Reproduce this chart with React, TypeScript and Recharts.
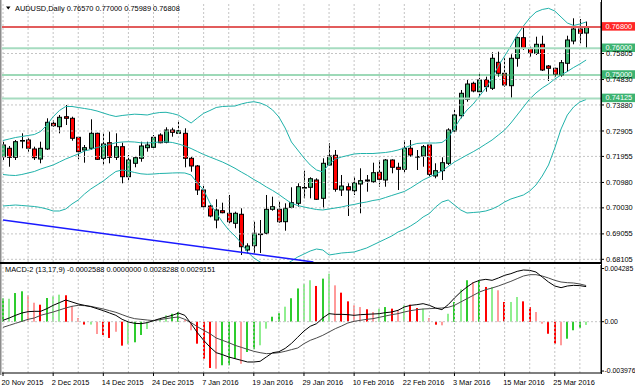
import React from 'react';
import { ComposedChart, Bar, Line, XAxis, YAxis, ReferenceLine } from 'recharts';

const FONT = '"Liberation Sans", Arial, Helvetica, sans-serif';
const FS = 7.4;

// ---------- categories / tick labels ----------
const dateLabels = ['20 Nov 2015', '2 Dec 2015', '14 Dec 2015', '24 Dec 2015', '7 Jan 2016', '19 Jan 2016',
  '29 Jan 2016', '10 Feb 2016', '22 Feb 2016', '3 Mar 2016', '15 Mar 2016', '25 Mar 2016'];
const dateTickIdx = [0, 8, 16, 24, 32, 40, 48, 56, 64, 72, 80, 88];
const gridIdx = [0, 4, 8, 12, 16, 20, 24, 28, 32, 36, 40, 44, 48, 52, 56, 60, 64, 68, 72, 76, 80, 84, 88, 92];

const priceTicks = [0.68105, 0.69055, 0.70030, 0.70980, 0.71955, 0.72905, 0.73880, 0.74830, 0.75805];
const priceGrid = [0.68105, 0.69055, 0.70030, 0.70980, 0.71955, 0.72905, 0.73880, 0.74830, 0.75805, 0.76780];

const levelPrices = [0.76800, 0.76000, 0.75000, 0.74125];
const levelLabels = ['0.76800', '0.76000', '0.75000', '0.74125'];
const levelLineColors = ['#e25c5c', '#a6dcc0', '#3cb371', '#a6dcc0'];
const levelBoxColors = ['#ff2626', '#3cb371', '#3cb371', '#3cb371'];
const levelWidths = [2, 2, 1.2, 2];

const macdTicks = [0.0042859, 0, -0.0039768];
const macdTickLabels = ['0.004285', '0.00', '-0.003976'];

// ---------- candles ----------
const opens = [0.71943, 0.72258, 0.71921, 0.72531, 0.72568, 0.72232, 0.71857, 0.72232, 0.73193, 0.73066,
  0.73440, 0.73380, 0.72669, 0.72194, 0.72258, 0.72819, 0.71884, 0.72467, 0.71921, 0.72318,
  0.71195, 0.71697, 0.71884, 0.72280, 0.72295, 0.72755, 0.72482, 0.72942, 0.72819, 0.72819,
  0.71884, 0.71596, 0.70698, 0.70099, 0.69575, 0.69923, 0.69826, 0.69452, 0.69789, 0.68453,
  0.68614, 0.69033, 0.69078, 0.69976, 0.69976, 0.69512, 0.70050, 0.70200, 0.70772, 0.70799,
  0.71072, 0.70387, 0.71633, 0.71996, 0.70698, 0.70821, 0.70671, 0.70922, 0.71072, 0.71008,
  0.71360, 0.71072, 0.71820, 0.71547, 0.71472, 0.72258, 0.71936, 0.71970, 0.72381, 0.71221,
  0.71420, 0.71697, 0.72905, 0.73477, 0.74091, 0.74690, 0.74375, 0.74824, 0.74503, 0.75475,
  0.75064, 0.74600, 0.75625, 0.76396, 0.75999, 0.75812, 0.76149, 0.75337, 0.75251, 0.75000,
  0.75438, 0.76272, 0.76721, 0.76570];
const highs = [0.72505, 0.72344, 0.72568, 0.72819, 0.72632, 0.72318, 0.72505, 0.73380, 0.73317, 0.73504,
  0.73878, 0.73440, 0.72692, 0.72381, 0.73343, 0.72841, 0.72819, 0.72879, 0.72819, 0.72467,
  0.72007, 0.71970, 0.72505, 0.72505, 0.72755, 0.72819, 0.73043, 0.73028, 0.73290, 0.73006,
  0.71943, 0.71633, 0.70847, 0.70136, 0.70350, 0.70223, 0.70511, 0.69886, 0.70013, 0.68704,
  0.69512, 0.69575, 0.70511, 0.70447, 0.70260, 0.70200, 0.70799, 0.70948, 0.71420, 0.71173,
  0.71135, 0.71884, 0.72445, 0.72194, 0.71259, 0.70948, 0.71195, 0.71510, 0.71259, 0.71719,
  0.71820, 0.71857, 0.71846, 0.71719, 0.72568, 0.72568, 0.72194, 0.72381, 0.72419, 0.71697,
  0.71921, 0.73006, 0.73754, 0.74439, 0.74813, 0.74749, 0.75064, 0.74937, 0.75849, 0.75872,
  0.75625, 0.75775, 0.76433, 0.76807, 0.76059, 0.76433, 0.76470, 0.75374, 0.75273, 0.75561,
  0.76470, 0.77121, 0.77095, 0.77000];
const lows = [0.71820, 0.71569, 0.71820, 0.72258, 0.72131, 0.71820, 0.71697, 0.72194, 0.73066, 0.72819,
  0.73130, 0.72542, 0.71846, 0.71719, 0.72194, 0.71820, 0.71633, 0.71697, 0.71820, 0.70948,
  0.71072, 0.71547, 0.71756, 0.72131, 0.72258, 0.72445, 0.72445, 0.72692, 0.72793, 0.71547,
  0.71382, 0.70511, 0.69949, 0.69676, 0.69265, 0.69826, 0.69452, 0.69265, 0.68266, 0.68329,
  0.68329, 0.68341, 0.69040, 0.69923, 0.69474, 0.69175, 0.70013, 0.70073, 0.70387, 0.70387,
  0.70324, 0.70013, 0.71596, 0.70634, 0.70473, 0.69725, 0.70511, 0.69826, 0.70634, 0.70971,
  0.70821, 0.70821, 0.71322, 0.70698, 0.71345, 0.71943, 0.71446, 0.71569, 0.71195, 0.71135,
  0.71072, 0.71633, 0.72879, 0.73380, 0.74001, 0.74353, 0.74102, 0.74375, 0.74439, 0.74937,
  0.74562, 0.74151, 0.75311, 0.75935, 0.75685, 0.75748, 0.75150, 0.74776, 0.74937, 0.74937,
  0.75124, 0.76149, 0.76186, 0.75989];
const closes = [0.72381, 0.71921, 0.72505, 0.72550, 0.72258, 0.71906, 0.72258, 0.73231, 0.73103, 0.73418,
  0.73380, 0.72632, 0.72131, 0.72280, 0.72819, 0.71846, 0.72419, 0.71921, 0.72318, 0.71195,
  0.71820, 0.71906, 0.72344, 0.72381, 0.72669, 0.72467, 0.72942, 0.72856, 0.72916, 0.71884,
  0.71596, 0.70698, 0.70073, 0.69725, 0.69949, 0.69848, 0.69512, 0.69826, 0.68576, 0.68603,
  0.69078, 0.69052, 0.69976, 0.70073, 0.69512, 0.70013, 0.70223, 0.70821, 0.70791, 0.71120,
  0.70350, 0.71697, 0.71970, 0.70724, 0.70847, 0.70698, 0.70971, 0.71046, 0.71034, 0.71345,
  0.71098, 0.71820, 0.71547, 0.71472, 0.72258, 0.72007, 0.71951, 0.72318, 0.71285, 0.71420,
  0.71719, 0.72942, 0.73504, 0.74316, 0.74663, 0.74402, 0.74813, 0.74562, 0.75625, 0.75064,
  0.74626, 0.75625, 0.76396, 0.75999, 0.75812, 0.76149, 0.75187, 0.75251, 0.75026, 0.75460,
  0.76310, 0.76721, 0.76560, 0.76808];

// ---------- Bollinger bands ----------
const bbUpper = [0.72550, 0.72606, 0.72662, 0.72699, 0.72737, 0.72774, 0.72886, 0.73130, 0.73440, 0.73672,
  0.73822, 0.73822, 0.73784, 0.73747, 0.73709, 0.73653, 0.73578, 0.73504, 0.73448, 0.73485,
  0.73511, 0.73534, 0.73522, 0.73504, 0.73560, 0.73597, 0.73605, 0.73560, 0.73496, 0.73354,
  0.73204, 0.73391, 0.73567, 0.73672, 0.73784, 0.73822, 0.73833, 0.73840, 0.73915, 0.73971,
  0.74001, 0.73953, 0.73859, 0.73691, 0.73429, 0.73017, 0.72493, 0.72194, 0.71895, 0.71633,
  0.71446, 0.71371, 0.71670, 0.71857, 0.71932, 0.71988, 0.72045, 0.72063, 0.72063, 0.72063,
  0.72082, 0.72101, 0.72138, 0.72194, 0.72269, 0.72363, 0.72437, 0.72456, 0.72456, 0.72456,
  0.72475, 0.72643, 0.73017, 0.73391, 0.73691, 0.73915, 0.74215, 0.74514, 0.74888, 0.75337,
  0.75711, 0.76085, 0.76497, 0.76833, 0.77133, 0.77357, 0.77451, 0.77496, 0.77395, 0.77170,
  0.76946, 0.76852, 0.76908, 0.76983];
const bbMiddle = [0.71278, 0.71251, 0.71240, 0.71278, 0.71334, 0.71390, 0.71483, 0.71558, 0.71633, 0.71745,
  0.71857, 0.71951, 0.72045, 0.72157, 0.72213, 0.72288, 0.72344, 0.72400, 0.72467, 0.72493,
  0.72505, 0.72493, 0.72464, 0.72456, 0.72475, 0.72493, 0.72501, 0.72475, 0.72419, 0.72344,
  0.72250, 0.72138, 0.72026, 0.71932, 0.71839, 0.71745, 0.71633, 0.71510, 0.71371, 0.71240,
  0.71091, 0.70960, 0.70810, 0.70679, 0.70529, 0.70361, 0.70200, 0.70118, 0.70062, 0.70013,
  0.69968, 0.69949, 0.69987, 0.70024, 0.70062, 0.70118, 0.70155, 0.70211, 0.70249, 0.70305,
  0.70342, 0.70417, 0.70492, 0.70567, 0.70642, 0.70772, 0.70922, 0.71072, 0.71184, 0.71296,
  0.71409, 0.71577, 0.71745, 0.71876, 0.72007, 0.72131, 0.72269, 0.72419, 0.72568, 0.72755,
  0.72942, 0.73204, 0.73504, 0.73803, 0.74102, 0.74327, 0.74514, 0.74663, 0.74850, 0.75000,
  0.75131, 0.75281, 0.75412, 0.75561];
const bbLower = [0.70099, 0.70118, 0.70136, 0.70118, 0.70099, 0.70080, 0.70043, 0.69987, 0.69912, 0.69912,
  0.69987, 0.70174, 0.70324, 0.70548, 0.70735, 0.70885, 0.71034, 0.71221, 0.71390, 0.71446,
  0.71409, 0.71352, 0.71304, 0.71285, 0.71296, 0.71315, 0.71322, 0.71334, 0.71341, 0.71334,
  0.71259, 0.70960, 0.70698, 0.70211, 0.69837, 0.69500, 0.69201, 0.68977, 0.68715, 0.68378,
  0.68154, 0.68004, 0.67854, 0.67779, 0.67779, 0.67892, 0.68041, 0.68191, 0.68303, 0.68415,
  0.68490, 0.68453, 0.68266, 0.68303, 0.68341, 0.68359, 0.68378, 0.68453, 0.68528, 0.68640,
  0.68752, 0.68864, 0.68977, 0.69126, 0.69220, 0.69351, 0.69500, 0.69688, 0.69818, 0.70062,
  0.70249, 0.70324, 0.70136, 0.69949, 0.69837, 0.69856, 0.69875, 0.69912, 0.69987, 0.70099,
  0.70249, 0.70361, 0.70436, 0.70511, 0.70660, 0.70885, 0.71221, 0.71633, 0.72269, 0.72980,
  0.73504, 0.73803, 0.73990, 0.74083];

// ---------- trend line (two anchor points) ----------
const trendIdx = [0, 49.5];
const trendPrices = [0.69575, 0.68004];

// ---------- MACD (values in units of 1e-4) ----------
const macdHistE4 = [18.7, 18.5, 23.1, 24.5, 21.3, 15.3, 13.7, 19.1, 20.5, 21.8,
  21.3, 12.7, 3.0, -2.3, -2.3, -9.9, -10.7, -13.1, -8.1, -19.3,
  -18.2, -16.6, -10.7, -5.9, 0.4, 2.4, 5.2, 6.4, 7.8, 1.5,
  -6.9, -17.7, -29.8, -37.3, -37.9, -35.1, -35.1, -29.8, -33.9, -24.4,
  -22.2, -19.0, -5.6, 4.0, 6.8, 12.1, 18.9, 26.8, 30.4, 33.4,
  28.8, 34.7, 38.7, 29.3, 23.4, 16.4, 13.2, 11.8, 10.0, 7.8,
  10.5, 11.8, 10.5, 9.2, 13.2, 13.7, 11.0, 10.5, 3.0, -2.4,
  -2.9, 6.4, 15.9, 26.1, 33.4, 32.0, 33.4, 28.0, 28.0, 25.3,
  15.9, 15.9, 19.9, 16.4, 11.8, 7.8, -1.6, -9.7, -17.7, -19.0,
  -13.7, -6.9, -5.1, -2.588];
const histShade = ['g', 'lg', 'g', 'g', 'lr', 'lr', 'r', 'g', 'lg', 'lg',
  'r', 'lr', 'lr', 'r', 'lg', 'lr', 'r', 'r', 'lr', 'r',
  'lg', 'g', 'g', 'lg', 'lg', 'lg', 'lg', 'g', 'g', 'lr',
  'lr', 'r', 'r', 'r', 'lr', 'g', 'g', 'g', 'lr', 'g',
  'g', 'lg', 'lg', 'g', 'g', 'lg', 'g', 'g', 'lg', 'lg',
  'r', 'g', 'lg', 'lr', 'r', 'r', 'lr', 'lr', 'r', 'lr',
  'lg', 'g', 'r', 'lr', 'lg', 'r', 'r', 'lg', 'lr', 'r',
  'lr', 'lg', 'g', 'lg', 'g', 'lr', 'g', 'r', 'lg', 'lr',
  'r', 'lg', 'lg', 'r', 'r', 'lr', 'lr', 'r', 'r', 'lr',
  'g', 'g', 'g', 'lg'];
const macdMainE4 = [1.11, 2.99, 5.13, 7.01, 8.09, 8.36, 8.36, 10.51, 13.19, 15.34,
  17.49, 15.88, 14.27, 13.19, 12.12, 10.51, 8.89, 7.01, 5.13, 1.91,
  -0.24, -1.31, -1.58, -0.78, 0.84, 2.45, 3.79, 5.13, 7.01, 5.13,
  -1.58, -8.83, -15.01, -20.38, -24.95, -26.56, -28.44, -29.78, -31.13, -32.47,
  -32.47, -31.93, -28.44, -24.95, -24.2, -21.5, -17.5, -12.5, -7.5, -3.7,
  -1.6, 3.0, 6.5, 5.94, 5.94, 5.67, 5.13, 5.67, 5.94, 6.21,
  6.48, 7.28, 7.82, 9.16, 11.85, 13.19, 13.73, 14.54, 13.19, 11.04,
  9.70, 13.73, 19.10, 23.94, 27.97, 31.46, 33.34, 34.14, 33.34, 35.22,
  37.37, 38.71, 40.59, 41.66, 41.39, 40.05, 36.02, 31.99, 28.77, 27.43,
  28.77, 29.31, 29.04, 28.288];
const macdSignalE4 = [-4.54, -2.92, -1.31, 0.30, 1.91, 2.99, 5.13, 6.48, 7.82, 9.43,
  11.04, 12.39, 13.19, 12.92, 12.39, 11.31, 10.24, 8.89, 7.55, 5.67,
  3.79, 2.45, 1.91, 1.37, 0.84, 1.64, 2.45, 3.25, 3.79, 1.91,
  -0.78, -4.00, -6.95, -9.64, -13.13, -15.01, -16.89, -19.04, -20.65, -22.26,
  -23.87, -24.95, -25.76, -25.49, -24.95, -23.87, -22.53, -21.19, -17.70, -15.01,
  -13.13, -10.98, -8.30, -5.61, -3.46, -1.04, 0.30, 1.11, 1.91, 2.45,
  3.52, 4.60, 5.67, 6.48, 7.82, 8.89, 9.70, 10.24, 10.51, 10.77,
  11.04, 11.58, 13.19, 15.88, 18.57, 21.25, 23.94, 25.82, 27.16, 28.77,
  30.65, 32.53, 34.68, 36.83, 37.90, 37.90, 36.83, 35.22, 33.34, 31.99,
  31.46, 31.19, 30.38, 29.151];

// ---------- tables built from the arrays ----------
const data = opens.map((o, i) => ({
  i,
  open: o, high: highs[i], low: lows[i], close: closes[i],
  bbU: bbUpper[i], bbM: bbMiddle[i], bbL: bbLower[i],
  hist: macdHistE4[i] / 1e4, shade: histShade[i],
  macd: macdMainE4[i] / 1e4, signal: macdSignalE4[i] / 1e4,
}));
const trendData = trendIdx.map((i, k) => ({ i, v: trendPrices[k] }));

const X_DOMAIN: [number, number] = [-0.16, 95.37];
const PRICE_DOMAIN: [number, number] = [0.680039, 0.777312];
const MACD_DOMAIN: [number, number] = [-0.0041344, 0.0045697];

const SHADE_COLORS: Record<string, string> = { g: '#2ecc2e', lg: '#90ee90', r: '#ff0000', lr: '#ff9a9a' };

// ---------- shapes ----------
const Candle = (props: any) => {
  const { x, y, width, height, payload } = props;
  if (!payload || x == null) return null;
  const { open, close, high, low } = payload;
  const top0 = Math.min(y, y + height);
  const h = Math.abs(height);
  const span = high - low;
  const py = (v: number) => top0 + (span === 0 ? 0 : ((high - v) / span) * h);
  const cx = Math.round(x + width / 2) + 0.5;
  const up = close >= open;
  const bt = py(Math.max(open, close));
  const bb = py(Math.min(open, close));
  return (
    <g>
      <line x1={cx} x2={cx} y1={top0} y2={top0 + h} stroke="#000" strokeWidth={1} />
      <rect x={cx - 2} y={bt} width={4} height={Math.max(bb - bt, 0.6)}
        fill={up ? '#3cb371' : '#ff0000'} stroke="#000" strokeWidth={1} />
    </g>
  );
};

const HistBar = (props: any) => {
  const { x, y, width, height, payload } = props;
  if (!payload || x == null) return null;
  const top = Math.min(y, y + height);
  const h = Math.abs(height);
  const cx = Math.round(x + width / 2);
  return <rect x={cx - 1} y={top} width={2} height={Math.max(h, 0.5)} fill={SHADE_COLORS[payload.shade]} />;
};

const PriceTick = (props: any) => {
  const { x, y, payload } = props;
  return (
    <text x={x} y={y} dy="0.35em" textAnchor="start" fontSize={FS} fontFamily={FONT} fill="#000">
      {Number(payload.value).toFixed(5)}
    </text>
  );
};

const MacdTick = (props: any) => {
  const { x, y, payload } = props;
  const k = macdTicks.indexOf(payload.value);
  return (
    <text x={x - 1.5} y={y} dy="0.35em" textAnchor="start" fontSize={6.9} fontFamily={FONT} fill="#000">
      {k >= 0 ? macdTickLabels[k] : ''}
    </text>
  );
};

const DateTick = (props: any) => {
  const { x, y, payload } = props;
  const k = dateTickIdx.indexOf(payload.value);
  return (
    <text x={x - 1.5} y={y} dy={8.3} textAnchor="start" fontSize={FS} fontFamily={FONT} fill="#000">
      {k >= 0 ? dateLabels[k] : ''}
    </text>
  );
};

const PriceBox = (props: any) => {
  const { viewBox, text, fill } = props;
  if (!viewBox) return null;
  const bx = viewBox.x + viewBox.width + 1;
  const by = viewBox.y;
  return (
    <g>
      <rect x={bx} y={by - 4.75} width={40} height={8.5} fill={fill} />
      <text x={bx + 3.5} y={by - 0.5} dy="0.35em" fontSize={FS} fontFamily={FONT} fill="#fff">{text}</text>
    </g>
  );
};

export default function App() {
  return (
    <div style={{ position: 'absolute', left: 0, top: 0, width: 635, height: 391, background: '#fff', overflow: 'hidden' }}>
      <div style={{ position: 'absolute', left: 0, top: 0 }}>
        <ComposedChart width={635} height={264} data={data} margin={{ top: 2, right: 0, bottom: 2, left: 2 }}>
          <XAxis dataKey="i" type="number" domain={X_DOMAIN} allowDataOverflow hide />
          <YAxis orientation="right" type="number" domain={PRICE_DOMAIN} allowDataOverflow width={34}
            ticks={priceTicks} interval={0} tick={(p: any) => <PriceTick {...p} />} tickSize={3} tickMargin={2}
            axisLine={{ stroke: '#000' }} tickLine={{ stroke: '#000' }} />
          {priceGrid.map((p) => (
            <ReferenceLine key={'h' + p} y={p} stroke="#c4c4c4" strokeDasharray="2 2" />
          ))}
          {gridIdx.map((k) => (
            <ReferenceLine key={'v' + k} x={k} stroke="#c4c4c4" strokeDasharray="2 2" />
          ))}
          <Line dataKey="bbU" stroke="#20b2aa" strokeWidth={1} dot={false} isAnimationActive={false} />
          <Line dataKey="bbM" stroke="#20b2aa" strokeWidth={1} dot={false} isAnimationActive={false} />
          <Line dataKey="bbL" stroke="#20b2aa" strokeWidth={1} dot={false} isAnimationActive={false} />
          <Line data={trendData} dataKey="v" stroke="#1a1aff" strokeWidth={1.5} dot={false} isAnimationActive={false} />
          {levelPrices.map((p, k) => (
            <ReferenceLine key={'l' + p} y={p} stroke={levelLineColors[k]} strokeWidth={levelWidths[k]}
              label={<PriceBox text={levelLabels[k]} fill={levelBoxColors[k]} />} />
          ))}
          <Bar dataKey={(d: any) => [d.low, d.high]} barSize={5} shape={(p: any) => <Candle {...p} />} isAnimationActive={false} />
        </ComposedChart>
      </div>
      <div style={{ position: 'absolute', left: 0, top: 262 }}>
        <ComposedChart width={635} height={129} data={data} margin={{ top: 3, right: 0, bottom: 0, left: 2 }}>
          <XAxis dataKey="i" type="number" domain={X_DOMAIN} allowDataOverflow ticks={dateTickIdx} interval={0}
            height={18} tick={(p: any) => <DateTick {...p} />} tickSize={3} tickMargin={1}
            axisLine={{ stroke: '#000' }} tickLine={{ stroke: '#000' }} />
          <YAxis orientation="right" type="number" domain={MACD_DOMAIN} allowDataOverflow width={34}
            ticks={macdTicks} interval={0} tick={(p: any) => <MacdTick {...p} />} tickSize={3} tickMargin={2}
            axisLine={{ stroke: '#000' }} tickLine={{ stroke: '#000' }} />
          <ReferenceLine y={0} stroke="#c4c4c4" strokeDasharray="2 2" />
          {gridIdx.map((k) => (
            <ReferenceLine key={'mv' + k} x={k} stroke="#c4c4c4" strokeDasharray="2 2" />
          ))}
          <Bar dataKey="hist" barSize={2} shape={(p: any) => <HistBar {...p} />} isAnimationActive={false} />
          <Line dataKey="signal" stroke="#4a4a4a" strokeWidth={1} dot={false} isAnimationActive={false} />
          <Line dataKey="macd" stroke="#000" strokeWidth={1} dot={false} isAnimationActive={false} />
        </ComposedChart>
      </div>
      <svg width={635} height={391} style={{ position: 'absolute', left: 0, top: 0, pointerEvents: 'none' }}>
        <rect x={0} y={0} width={1.5} height={375} fill="#8c8c8c" />
        <rect x={0} y={262} width={602} height={2} fill="#000" />
        <rect x={601} y={0} width={1} height={374} fill="#000" />
        <polygon points="6,6.5 10.5,6.5 8.25,9.5" fill="#000" />
        <text x={15} y={11} fontSize={FS} fontFamily={FONT} fill="#000">AUDUSD,Daily  0.76570 0.77000 0.75989 0.76808</text>
        <text x={5} y={272} fontSize={FS} fontFamily={FONT} fill="#000">MACD-2 (13,17,9) -0.0002588 0.0000000 0.0028288 0.0029151</text>
      </svg>
    </div>
  );
}
